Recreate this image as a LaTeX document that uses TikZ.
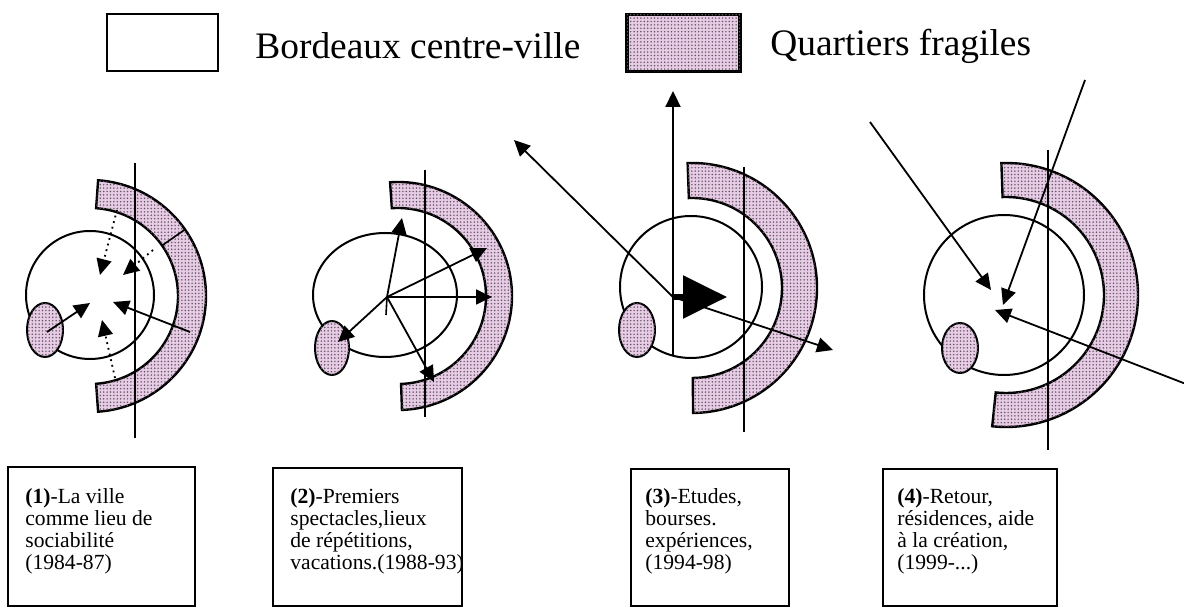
\documentclass[tikz,border=0pt]{standalone}
\usepackage{fontspec}
\setmainfont{Liberation Serif}
\usetikzlibrary{arrows.meta,patterns.meta}
\definecolor{qpink}{RGB}{232,204,230}
\definecolor{qdot}{RGB}{95,88,98}
\pgfdeclarepattern{
  name=qdots, type=uncolored,
  bottom left={\pgfpoint{-0.1pt}{-0.1pt}},
  top right={\pgfpoint{1.8pt}{1.8pt}},
  tile size={\pgfpoint{1.7pt}{1.7pt}},
  code={\pgfpathcircle{\pgfpoint{0.85pt}{0.85pt}}{0.42pt}\pgfusepath{fill}}
}
\tikzset{
  band/.style={draw=black, line width=1.2pt, fill=qpink, postaction={pattern=qdots, pattern color=qdot}},
  ring/.style={draw=black, line width=1pt},
  blob/.style={draw=black, line width=1pt, fill=qpink, postaction={pattern=qdots, pattern color=qdot}},
  vline/.style={draw=black, line width=1.1pt},
  arr/.style={draw=black, line width=0.9pt, -{Triangle[length=8pt,width=7.5pt]}},
  darr/.style={arr, dotted},
  bigarr/.style={draw=black, line width=2.8pt, -{Triangle[length=22pt,width=21pt]}},
  txtbox/.style={draw=black, line width=0.9pt},
  lbl/.style={anchor=north west, align=left, font=\fontsize{10.8pt}{11pt}\selectfont, inner sep=0pt},
  legtxt/.style={anchor=west, inner sep=0pt, font=\fontsize{18.7pt}{20pt}\selectfont}
}
% band: center x, center y, inner r, outer r, start angle, end angle
\newcommand\qband[6]{%
  \path[band] ([shift={(#5:#4)}]#1,#2) arc[start angle=#5, end angle=#6, radius=#4]
    -- ([shift={(#6:#3)}]#1,#2) arc[start angle=#6, end angle=#5, radius=#3] -- cycle;}
\begin{document}
\begin{tikzpicture}[x=0.5pt,y=-0.5pt]
\useasboundingbox (0,0) rectangle (1184,608);

% ---------- legend ----------
\node[draw=black, line width=1.2pt, minimum width=55.5pt, minimum height=28.5pt, inner sep=0pt] (legA) at (162.5,42.5) {};
\node[legtxt] (legAt) at (255,46) {Bordeaux centre-ville};
\node[band, line width=1.6pt, minimum width=56.5pt, minimum height=28.5pt, inner sep=0pt] (legB) at (683.5,43) {};
\node[legtxt] (legBt) at (770,46) {Quartiers fragiles};

% ---------- diagram 1 ----------
\qband{90}{296}{88}{116}{-86}{86}
\draw[line width=0.8pt] ([shift={(-35:88)}]90,296) -- ([shift={(-35:116)}]90,296);
\draw[ring] (90,295) circle[radius=64];
\draw[blob] (45,330) ellipse[x radius=18, y radius=27];
\draw[vline] (135,163) -- (135,438);
\coordinate (d1e) at (47,332);
\coordinate (d1c1) at (90,303);
\coordinate (d1b) at (190,332);
\coordinate (d1c2) at (113,302);
\coordinate (d1t1) at (117,210);
\coordinate (d1c3) at (100,275);
\coordinate (d1t2) at (153,250);
\coordinate (d1c4) at (123,275);
\coordinate (d1u) at (115,378);
\coordinate (d1c5) at (102,320);
\draw[arr] (d1e) -- (d1c1);
\draw[arr] (d1b) -- (d1c2);
\draw[darr] (d1t1) -- (d1c3);
\draw[darr] (d1t2) -- (d1c4);
\draw[darr] (d1u) -- (d1c5);

% ---------- diagram 2 ----------
\qband{398}{296}{88}{114}{-94}{88}
\draw[ring] (385,295) ellipse[x radius=72, y radius=62];
\draw[blob] (332,348) ellipse[x radius=17, y radius=27];
\draw[vline] (425,170) -- (425,417);
\coordinate (d2c) at (387,297);
\coordinate (d2a) at (402,218);
\coordinate (d2b) at (487,248);
\coordinate (d2r) at (492,297);
\coordinate (d2d) at (434,382);
\coordinate (d2e) at (338,342);
\coordinate (d2t) at (386,315);
\draw[arr] (d2c) -- (d2a);
\draw[arr] (d2c) -- (d2b);
\draw[arr] (d2c) -- (d2r);
\draw[arr] (d2c) -- (d2d);
\draw[arr] (d2c) -- (d2e);
\draw[line width=0.8pt] (d2c) -- (d2t);

% ---------- diagram 3 ----------
\qband{692}{288}{90}{125}{-92}{89.5}
\draw[ring] (691,287) circle[radius=71];
\draw[blob] (637,330) ellipse[x radius=18, y radius=27];
\draw[vline] (744,167) -- (744,432);
\coordinate (d3c) at (673,297);
\coordinate (d3bot) at (673,355);
\coordinate (d3up) at (673,91);
\coordinate (d3ul) at (514,140);
\coordinate (d3lr) at (833,350);
\coordinate (d3big) at (727,297);
\draw[arr, line width=1.1pt] (d3bot) -- (d3up);
\draw[arr] (d3c) -- (d3ul);
\draw[arr] (d3c) -- (d3lr);
\draw[bigarr] (d3c) -- (d3big);

% ---------- diagram 4 ----------
\qband{1006}{295}{98}{132}{-92}{96}
\draw[ring] (1004,295) circle[radius=80];
\draw[blob] (960,348) ellipse[x radius=18, y radius=25];
\draw[vline] (1048,150) -- (1048,450);
\coordinate (d4ul) at (870,122);
\coordinate (d4c1) at (991,290);
\coordinate (d4ur) at (1085,80);
\coordinate (d4c2) at (1003,305);
\coordinate (d4lr) at (1186,384);
\coordinate (d4c3) at (995,310);
\draw[arr] (d4ul) -- (d4c1);
\draw[arr] (d4ur) -- (d4c2);
\draw[arr] (d4lr) -- (d4c3);

% ---------- text boxes ----------
\draw[txtbox] (8,467) rectangle (195,606);
\draw[txtbox] (273,468) rectangle (462,606);
\draw[txtbox] (631,469) rectangle (789,606);
\draw[txtbox] (883,469) rectangle (1057,606);
\node[lbl] (t1) at (25,488) {\textbf{(1)}-La ville\\comme lieu de\\sociabilité\\(1984-87)};
\node[lbl] (t2) at (290,488) {\textbf{(2)}-Premiers\\spectacles,lieux\\de répétitions,\\vacations.(1988-93)};
\node[lbl] (t3) at (645,488) {\textbf{(3)}-Etudes,\\bourses.\\expériences,\\(1994-98)};
\node[lbl] (t4) at (897,488) {\textbf{(4)}-Retour,\\résidences, aide\\à la création,\\(1999-...)};
\end{tikzpicture}
\end{document}
